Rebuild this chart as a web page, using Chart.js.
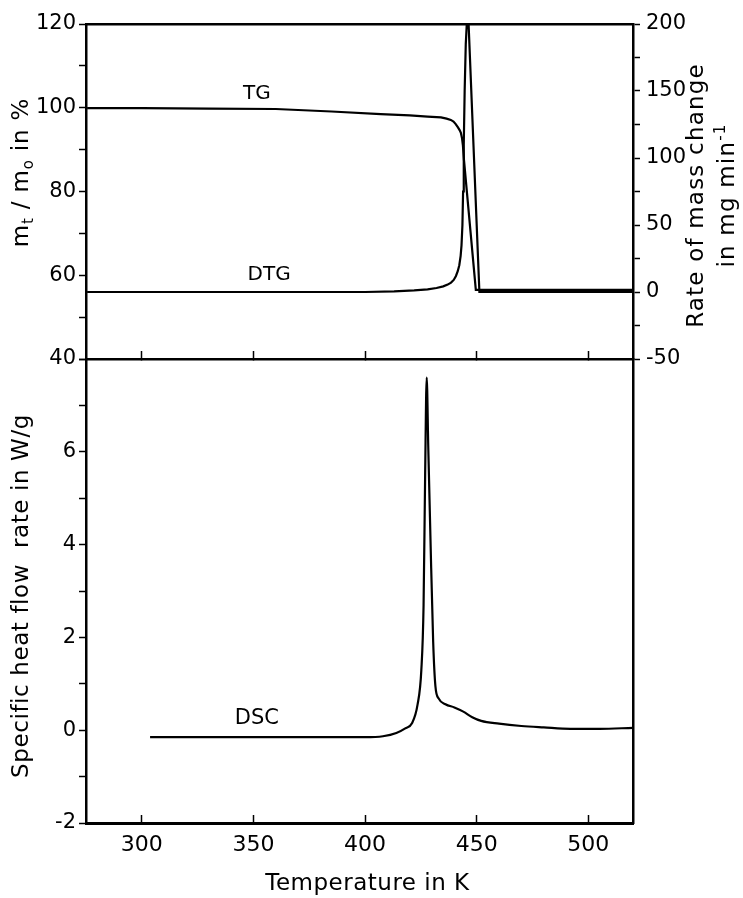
<!DOCTYPE html>
<html>
<head>
<meta charset="utf-8">
<script src="https://cdn.jsdelivr.net/npm/chart.js@4.4.1/dist/chart.umd.min.js"></script>
<style>
  html, body { margin: 0; padding: 0; background: #fff; }
  #wrap { position: relative; width: 743px; height: 898px; }
  #wrap canvas { position: absolute; left: 0; top: 0; }
</style>
</head>
<body>
<div id="wrap">
  <canvas id="thermoTop" width="743" height="898"></canvas>
  <canvas id="thermoBottom" width="743" height="898"></canvas>
</div>
<script>
// temperature axis, K
const tempRange = [275, 520];
const tempTicks = [300, 350, 400, 450, 500];

// TG: m_t / m_o in %
const tgTemps  = [275.5, 300, 330, 360, 385, 407, 420, 428, 434, 436.5, 438.4, 439.6, 440.6, 441.6, 442.4, 442.9, 443.4, 443.8, 444.3, 449.6, 470, 500, 520];
const tgValues = [99.9, 99.9, 99.8, 99.7, 99.1, 98.5, 98.2, 97.9, 97.7, 97.4, 97.1, 96.7, 96.1, 95.3, 94.6, 94.0, 92.8, 91.1, 87.5, 56.5, 56.5, 56.5, 56.5];

// DTG: rate of mass change in mg/min (peak runs off the top of the frame)
const dtgTemps  = [275.5, 350, 400, 413, 422, 428, 432, 435, 437, 438.5, 439.7, 440.7, 441.5, 442.2, 442.8, 443.2, 443.6, 443.9, 444.2, 444.6, 445.1, 446.0, 451.2, 480, 520];
const dtgValues = [0, 0, 0, 0.4, 1.2, 2.0, 3.0, 4.2, 5.5, 7, 9, 12, 15.5, 20, 27, 35, 50, 75, 110, 150, 185, 215, 0, 0, 0];

// DSC: specific heat flow rate in W/g
const dscTemps  = [303.7, 340, 380, 400, 408, 414, 418, 421, 423.5, 425.2, 426.2, 426.9, 427.6, 428.3, 429.3, 430.5, 431.5, 433, 436, 440, 444, 448, 452, 460, 470, 480, 492, 505, 520];
const dscValues = [-0.15, -0.15, -0.15, -0.15, -0.13, -0.06, 0.04, 0.15, 0.55, 1.3, 2.7, 5.5, 7.6, 6.1, 4.1, 1.9, 0.95, 0.68, 0.56, 0.49, 0.40, 0.28, 0.20, 0.14, 0.09, 0.06, 0.03, 0.03, 0.05];

// labelled ticks (the others are unlabelled minor ticks)
const tgLabels  = [40, 60, 80, 100, 120];
const dtgLabels = [-50, 0, 50, 100, 150, 200];
const dscLabels = [-2, 0, 2, 4, 6];

// where the curve names sit, in data units [T, value]
const tgNameAt  = [351.5, 103.3];
const dtgNameAt = [357, 13];
const dscNameAt = [351.5, 0.25];

const FONT = '"DejaVu Sans", sans-serif';
const INK = '#000';

const pairs = (xs, ys) => xs.map((x, i) => ({ x, y: ys[i] }));
const fixWidth = w => s => { s.width = w; };
const fixHeight = h => s => { s.height = h; };

// text with sub/superscripts, centred on (x, y), optionally rotated
function drawRich(ctx, parts, x, y, angle, size, spacing) {
  const small = Math.round(size * 0.66);
  ctx.save();
  ctx.translate(x, y);
  ctx.rotate(angle);
  ctx.fillStyle = INK;
  ctx.textBaseline = 'middle';
  ctx.textAlign = 'left';
  ctx.letterSpacing = (spacing || 0) + 'px';
  const widths = parts.map(([t, s]) => {
    ctx.font = (s ? small : size) + 'px ' + FONT;
    return ctx.measureText(t).width;
  });
  let cx = -widths.reduce((a, b) => a + b, 0) / 2;
  parts.forEach(([t, s], i) => {
    ctx.font = (s ? small : size) + 'px ' + FONT;
    ctx.fillText(t, cx, s * size * 0.32);
    cx += widths[i];
  });
  ctx.restore();
}

const yTickFont = { family: FONT, size: 21 };
const xTickFont = { family: FONT, size: 22 };

function tempAxis(extra) {
  return Object.assign({
    type: 'linear',
    min: tempRange[0],
    max: tempRange[1],
    afterBuildTicks: s => { s.ticks = tempTicks.map(v => ({ value: v })); },
    grid: { drawOnChartArea: false, color: INK, tickColor: INK, tickWidth: 1.5, tickLength: -8 },
    border: { display: true, color: INK, width: 2.5 }
  }, extra);
}

function valueAxis(position, min, max, step, labels, width, pad) {
  return {
    type: 'linear',
    position,
    min, max,
    afterFit: fixWidth(width),
    ticks: {
      stepSize: step,
      color: INK,
      font: yTickFont,
      padding: pad,
      callback: v => labels.includes(v) ? String(v) : ''
    },
    grid: { drawOnChartArea: false, color: INK, tickColor: INK, tickWidth: 1.5, tickLength: 7 },
    border: { display: true, color: INK, width: 2.5 }
  };
}

const topNotes = {
  id: 'topNotes',
  afterDraw(chart) {
    const { ctx, chartArea, scales } = chart;
    const midY = (chartArea.top + chartArea.bottom) / 2;
    drawRich(ctx, [['m', 0], ['t', 1], [' / m', 0], ['o', 1], [' in %', 0]],
      scales.yTG.left + 22, midY - 19, -Math.PI / 2, 23, 0.8);
    const rx = scales.yDTG.left + 79.5;
    drawRich(ctx, [['Rate of mass change', 0]], rx - 15.5, midY + 4, -Math.PI / 2, 23, 1.2);
    drawRich(ctx, [['in mg min', 0], ['-1', -1]], rx + 15.5, midY + 4, -Math.PI / 2, 23, 1.2);
    drawRich(ctx, [['TG', 0]], scales.x.getPixelForValue(tgNameAt[0]), scales.yTG.getPixelForValue(tgNameAt[1]), 0, 20);
    drawRich(ctx, [['DTG', 0]], scales.x.getPixelForValue(dtgNameAt[0]), scales.yDTG.getPixelForValue(dtgNameAt[1]), 0, 20);
  }
};

const bottomNotes = {
  id: 'bottomNotes',
  afterDraw(chart) {
    const { ctx, chartArea, scales } = chart;
    const midY = (chartArea.top + chartArea.bottom) / 2;
    const midX = (chartArea.left + chartArea.right) / 2;
    drawRich(ctx, [['Specific heat flow  rate in W/g', 0]], scales.yDSC.left + 22, midY + 5, -Math.PI / 2, 23, 0.6);
    drawRich(ctx, [['Temperature in K', 0]], midX + 8, scales.x.bottom - 14, 0, 23, 0.5);
    drawRich(ctx, [['DSC', 0]], scales.x.getPixelForValue(dscNameAt[0]), scales.yDSC.getPixelForValue(dscNameAt[1]), 0, 21);
  }
};

// top panel: TG (left axis) and DTG (right axis)
new Chart(document.getElementById('thermoTop'), {
  type: 'line',
  data: {
    datasets: [
      { label: 'TG', data: pairs(tgTemps, tgValues), yAxisID: 'yTG',
        borderColor: INK, borderWidth: 2.2, pointRadius: 0, tension: 0 },
      { label: 'DTG', data: pairs(dtgTemps, dtgValues), yAxisID: 'yDTG',
        borderColor: INK, borderWidth: 2.2, pointRadius: 0, tension: 0 }
    ]
  },
  options: {
    responsive: false,
    animation: false,
    layout: { padding: { top: 24, bottom: 539, left: 0, right: 0 } },
    plugins: { legend: { display: false }, tooltip: { enabled: false } },
    scales: {
      x: tempAxis({ position: 'bottom', ticks: { display: false }, afterFit: fixHeight(0) }),
      xTop: tempAxis({ position: 'top', ticks: { display: false }, grid: { display: false }, afterFit: fixHeight(0) }),
      yTG: valueAxis('left', 40, 120, 10, tgLabels, 86, 3),
      yDTG: valueAxis('right', -50, 200, 25, dtgLabels, 110, 6)
    }
  },
  plugins: [topNotes]
});

// bottom panel: DSC
new Chart(document.getElementById('thermoBottom'), {
  type: 'line',
  data: {
    datasets: [
      { label: 'DSC', data: pairs(dscTemps, dscValues), yAxisID: 'yDSC',
        borderColor: INK, borderWidth: 2.2, pointRadius: 0, cubicInterpolationMode: 'monotone' }
    ]
  },
  options: {
    responsive: false,
    animation: false,
    layout: { padding: { top: 359, bottom: 0, left: 0, right: 0 } },
    plugins: { legend: { display: false }, tooltip: { enabled: false } },
    scales: {
      x: tempAxis({
        position: 'bottom',
        afterFit: fixHeight(75),
        ticks: { color: INK, font: xTickFont, padding: 17 },
        border: { display: true, color: INK, width: 3 }
      }),
      yDSC: valueAxis('left', -2, 8, 1, dscLabels, 86, 3),
      yR: {
        type: 'linear', position: 'right', min: 0, max: 1,
        afterFit: fixWidth(110),
        ticks: { display: false },
        grid: { display: false },
        border: { display: true, color: INK, width: 2.5 }
      }
    }
  },
  plugins: [bottomNotes]
});
</script>
</body>
</html>
